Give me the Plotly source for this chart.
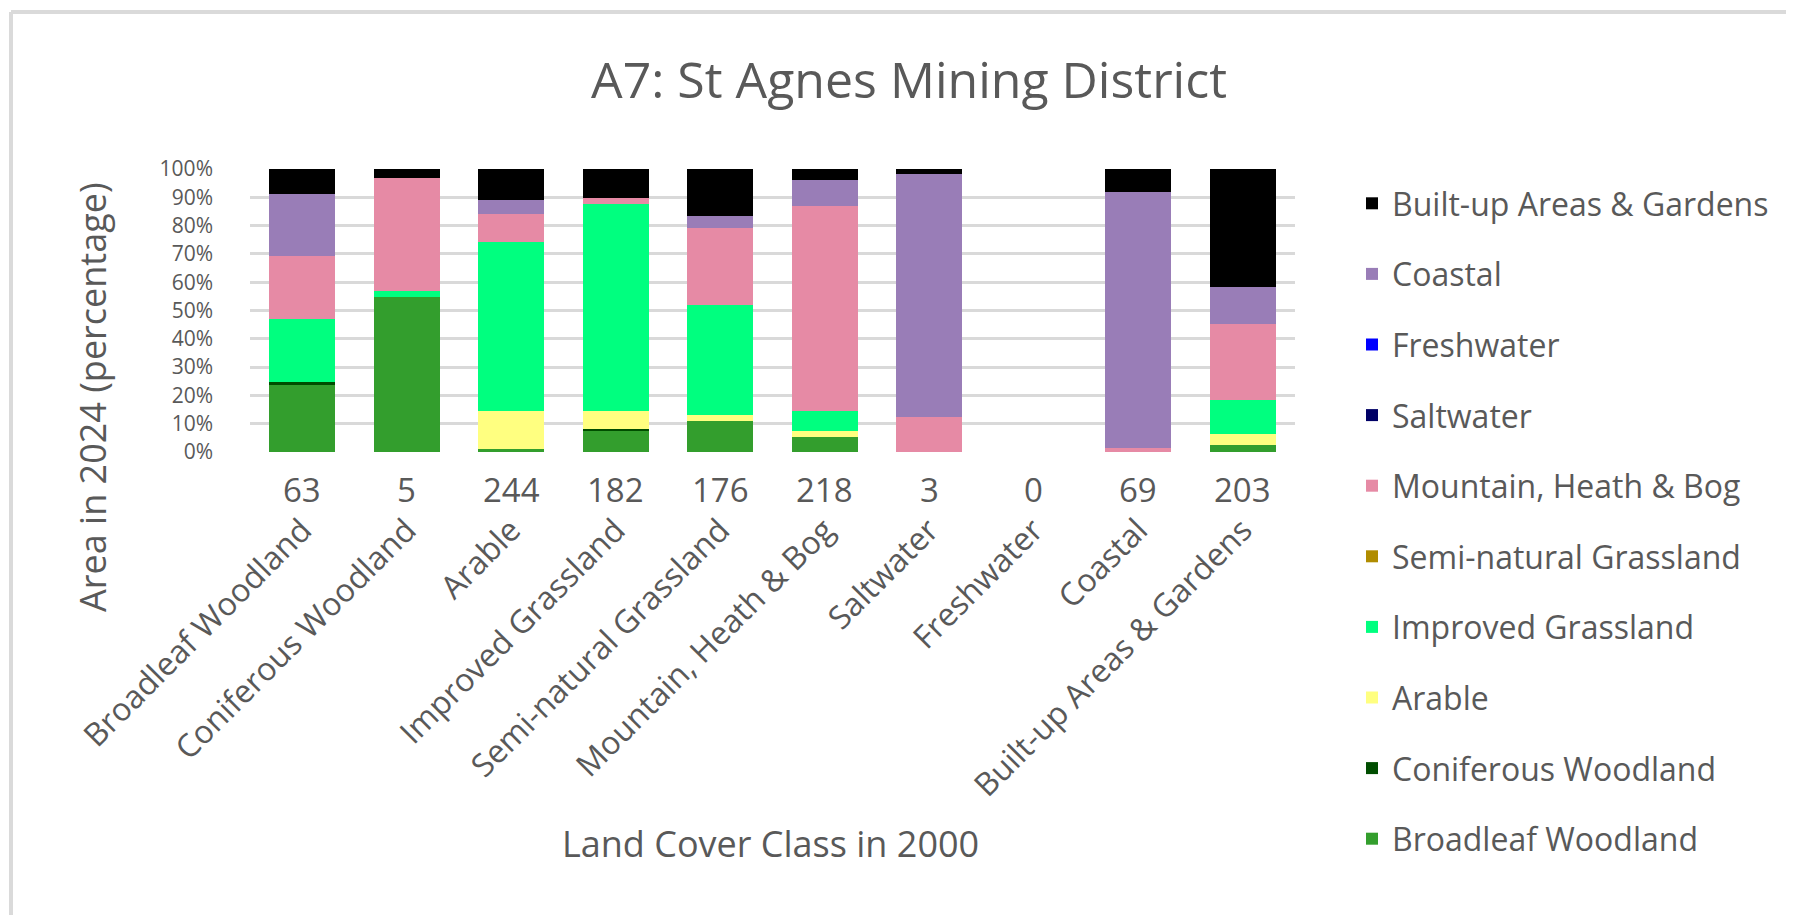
import plotly.graph_objects as go

categories = ["Broadleaf Woodland", "Coniferous Woodland", "Arable", "Improved Grassland",
              "Semi-natural Grassland", "Mountain, Heath & Bog", "Saltwater", "Freshwater",
              "Coastal", "Built-up Areas & Gardens"]
totals = [63, 5, 244, 182, 176, 218, 3, 0, 69, 203]

broadleaf = [24.0, 54.8, 0.9, 7.3, 11.0, 5.3, 0, 0, 0, 2.4]
coniferous = [0.6, 0, 0, 0.8, 0, 0, 0, 0, 0, 0]
arable = [0, 0, 13.6, 6.4, 2.0, 2.0, 0, 0, 0, 4.1]
improved = [22.3, 2.0, 59.6, 73.2, 38.8, 7.2, 0, 0, 0, 11.8]
semi_natural = [0, 0, 0, 0, 0, 0, 0, 0, 0, 0]
mountain = [22.2, 40.1, 9.9, 2.0, 27.2, 72.3, 12.4, 0, 1.5, 27.0]
saltwater = [0, 0, 0, 0, 0, 0, 0, 0, 0, 0]
freshwater = [0, 0, 0, 0, 0, 0, 0, 0, 0, 0]
coastal = [22.2, 0, 5.1, 0, 4.3, 9.4, 85.9, 0, 90.3, 12.9]
built_up = [8.7, 3.1, 10.9, 10.3, 16.8, 3.8, 1.7, 0, 8.1, 41.8]

series = [
    ("Broadleaf Woodland", broadleaf, "#339E2D"),
    ("Coniferous Woodland", coniferous, "#004D00"),
    ("Arable", arable, "#FFFF80"),
    ("Improved Grassland", improved, "#00FF7F"),
    ("Semi-natural Grassland", semi_natural, "#B08C00"),
    ("Mountain, Heath & Bog", mountain, "#E68AA5"),
    ("Saltwater", saltwater, "#000066"),
    ("Freshwater", freshwater, "#0000FF"),
    ("Coastal", coastal, "#997DB7"),
    ("Built-up Areas & Gardens", built_up, "#000000"),
]

TXT = "#595959"
FONT = "Open Sans"

fig = go.Figure()
n = len(series)
for i, (name, vals, col) in enumerate(series):
    fig.add_trace(go.Bar(x=categories, y=vals, name=name, marker_color=col,
                         marker_line_width=0, legendgroup=name, legendrank=n - i))

# page offset (body margin) compensation: target coords are screenshot pixels
OFF = 8
W, H = 1794 - OFF, 915 - OFF
L, R, T, B = 250, 1295, 169, 452          # plot area in screenshot pixels
pw, ph = R - L, B - T
def px(x):
    return (x - L) / pw
def py(y):
    return (B - y) / ph

annotations = []
for cat, tot in zip(categories, totals):
    annotations.append(dict(x=cat, xref="x", y=py(489), yref="paper", text=str(tot),
                            showarrow=False, font=dict(family=FONT, size=33, color=TXT),
                            xanchor="center", yanchor="middle"))
annotations.append(dict(x=px(92), y=py(397), xref="paper", yref="paper",
                        xanchor="center", yanchor="middle",
                        text="Area in 2024 (percentage)", textangle=-90, showarrow=False,
                        font=dict(family=FONT, size=36, color=TXT)))
annotations.append(dict(x=px(770), y=py(843), xref="paper", yref="paper",
                        xanchor="center", yanchor="middle",
                        text="Land Cover Class in 2000", showarrow=False,
                        font=dict(family=FONT, size=36, color=TXT)))

shapes = [
    dict(type="line", xref="paper", yref="paper", x0=px(11), x1=px(1794), y0=py(12), y1=py(12),
         line=dict(color="#DADADA", width=4)),
    dict(type="line", xref="paper", yref="paper", x0=px(11), x1=px(11), y0=py(12), y1=py(915),
         line=dict(color="#DADADA", width=4)),
]

fig.update_layout(
    width=W, height=H,
    margin=dict(l=L - OFF, r=W - (R - OFF), t=T - OFF, b=H - (B - OFF), pad=0),
    paper_bgcolor="white", plot_bgcolor="white",
    barmode="stack", bargap=0.37,
    title=dict(text="A7: St Agnes Mining District", x=(909 - OFF) / W, xanchor="center",
               y=1 - (80 - OFF) / H, yanchor="middle",
               font=dict(family=FONT, size=50, color=TXT)),
    font=dict(family=FONT, color=TXT),
    xaxis=dict(tickangle=-45, tickfont=dict(family=FONT, size=32, color=TXT),
               showgrid=False, showline=False, ticks="", ticklabelstandoff=52),
    yaxis=dict(range=[0, 100], dtick=10, ticksuffix="%", showgrid=True,
               gridcolor="#D9D9D9", gridwidth=2.5, zeroline=False, showline=False,
               tickfont=dict(family=FONT, size=21, color=TXT), ticklabelstandoff=36),
    legend=dict(x=px(1352), xanchor="left", y=py(176), yanchor="top",
                traceorder="grouped", tracegroupgap=26, maxheight=880,
                font=dict(family=FONT, size=32, color=TXT), bgcolor="rgba(0,0,0,0)"),
    annotations=annotations,
    shapes=shapes,
    showlegend=True,
)

fig.write_html("out.html")
